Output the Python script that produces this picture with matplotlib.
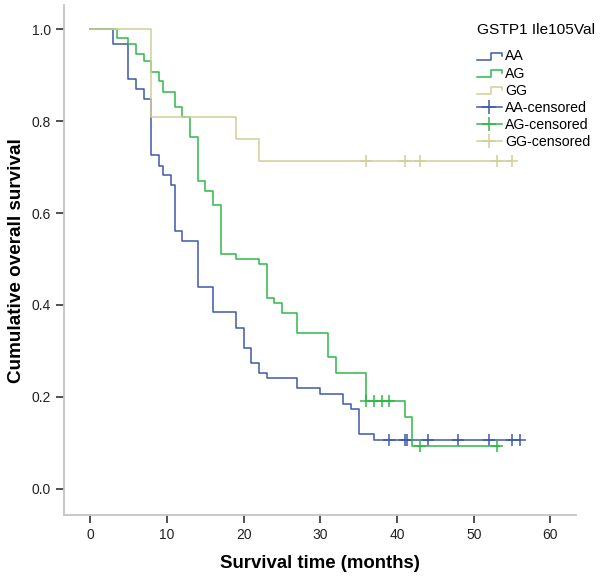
import numpy as np
import matplotlib
matplotlib.use("Agg")
import matplotlib.pyplot as plt
from matplotlib.lines import Line2D
from matplotlib.legend_handler import HandlerBase

plt.rcParams['font.family'] = ['Liberation Sans', 'DejaVu Sans']

# Kaplan-Meier steps: (time of event, survival after it)
aa_time = [0, 3, 5, 6, 7, 8, 9, 9.5, 10.6, 11, 12, 14, 16, 19, 20, 21, 22, 23, 27, 30, 33, 34, 35, 37]
aa_surv = [1.0, .967, .891, .869, .847, .726, .703, .683, .661, .561, .539, .439, .384, .349, .306,
           .273, .252, .241, .219, .207, .185, .173, .120, .107]
aa_end = 56
aa_cens = [39, 41, 41.3, 44, 48, 52, 55, 56]

ag_time = [0, 3.5, 5, 6, 7, 8, 9, 9.5, 11, 12, 13, 14, 15, 16, 17, 19, 22, 23, 24, 25, 27, 31, 32, 36, 41, 42]
ag_surv = [1.0, .980, .967, .946, .930, .907, .887, .864, .830, .808, .766, .670, .648, .617, .510,
           .499, .488, .416, .404, .383, .340, .286, .253, .190, .157, .093]
ag_end = 53.3
ag_cens = [36, 37, 38, 39, 43, 53]

gg_time = [0, 8, 19, 22]
gg_surv = [1.0, .809, .762, .714]
gg_end = 55
gg_cens = [36, 41, 43, 53, 55]

groups = ["AA", "AG", "GG"]
colors = ["#3E58AC", "#2EB848", "#D3CE97"]


def surv_at(times, surv, t):
    i = np.searchsorted(times, t, side='right') - 1
    return np.array(surv)[i]


class StepHandler(HandlerBase):
    def create_artists(self, legend, orig_handle, xdescent, ydescent, width, height, fontsize, trans):
        x0, y0 = -xdescent, -ydescent
        xs = [x0, x0 + 0.55 * width, x0 + 0.55 * width, x0 + width, x0 + width]
        ys = [y0 + 0.05 * height, y0 + 0.05 * height, y0 + 0.8 * height, y0 + 0.8 * height, y0 + 0.45 * height]
        line = Line2D(xs, ys, color=orig_handle.get_color(), lw=1.1)
        line.set_transform(trans)
        return [line]


fig = plt.figure(figsize=(6, 5.8), dpi=100)
ax = fig.add_axes([0.1067, 0.112, 0.853, 0.879])

data = [(aa_time, aa_surv, aa_end, aa_cens), (ag_time, ag_surv, ag_end, ag_cens),
        (gg_time, gg_surv, gg_end, gg_cens)]
step_handles = []
cens_handles = []
for (t, s, end, cens), col, name in zip(data, colors, groups):
    tt = list(t) + [end]
    ss = list(s) + [s[-1]]
    ln, = ax.step(tt, ss, where='post', color=col, lw=1.1)
    step_handles.append(ln)
    cy = surv_at(t, s, cens)
    ax.plot(cens, cy, linestyle='none', marker='+', markersize=8, markeredgewidth=1.1, color=col)
    # legend proxy: line with a cross in the middle
    cens_handles.append(Line2D([], [], color=col, lw=1.1, marker='+', markersize=10, markeredgewidth=1.1))

ax.set_xlim(-3.4, 63.3)
ax.set_ylim(-0.057, 1.052)
ax.set_xticks(np.arange(0, 61, 10))
ax.set_yticks(np.arange(0, 1.01, 0.2))
ax.set_yticklabels(["%.1f" % v for v in np.arange(0, 1.01, 0.2)])
for side in ['top', 'right']:
    ax.spines[side].set_visible(False)
for side in ['left', 'bottom']:
    ax.spines[side].set_color('#c4c4c4')
    ax.spines[side].set_linewidth(1.3)
ax.tick_params(direction='out', length=6, width=1.2, color='#333333', labelsize=10, labelcolor='#222222')
ax.set_xlabel("Survival time (months)", fontsize=13.4, fontweight='bold', labelpad=9)
ax.set_ylabel("Cumulative overall survival", fontsize=13.6, fontweight='bold', labelpad=5)

handles = step_handles + cens_handles
labels = groups + [g + "-censored" for g in groups]
handler_map = {h: StepHandler() for h in step_handles}
leg = fig.legend(handles, labels, loc='upper left', bbox_to_anchor=(477 / 600, 1 - 23 / 580),
                 frameon=False, title="GSTP1 Ile105Val", title_fontsize=11.1, fontsize=10.2,
                 handlelength=1.75, handletextpad=0.25, labelspacing=0.22, borderpad=0.0,
                 borderaxespad=0.0, alignment='left', handler_map=handler_map, numpoints=1)
# a bit more room between the legend title and the entries
leg._legend_box.sep = 9

fig.savefig("out.png", dpi=100)
